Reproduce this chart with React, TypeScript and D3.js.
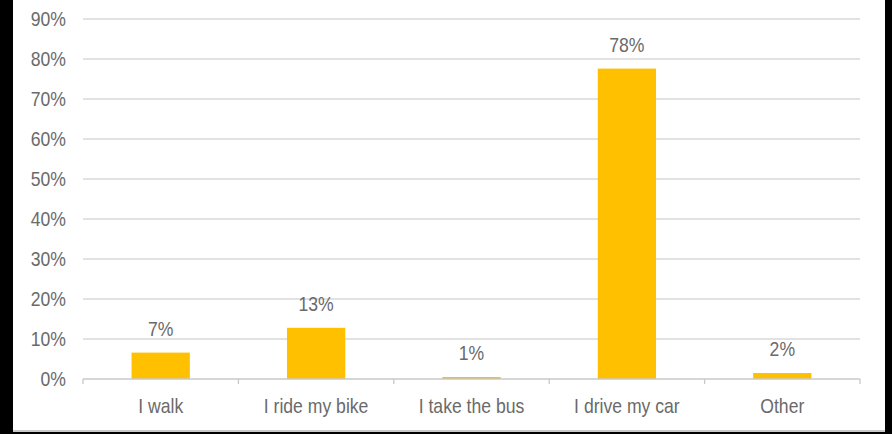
import React from "react";
import * as d3 from "d3";

// Survey: how people get to work
const categories = ["I walk", "I ride my bike", "I take the bus", "I drive my car", "Other"];
const shares = [6.6, 12.8, 0.5, 77.6, 1.5];
const yTicks = [0, 10, 20, 30, 40, 50, 60, 70, 80, 90];

const W = 892;
const H = 434;
const plot = { left: 83, right: 860, top: 19, bottom: 379 };
const FONT = "'Liberation Sans', Arial, sans-serif";
const TEXT = "#6a6a6a";
const SQUEEZE = 0.88;

// Condensed text: horizontally squeezed around its anchor point
function Label({
  x,
  y,
  anchor,
  children,
}: {
  x: number;
  y: number;
  anchor: "start" | "middle" | "end";
  children: React.ReactNode;
}) {
  return (
    <text
      transform={`translate(${x},${y}) scale(${SQUEEZE},1)`}
      textAnchor={anchor}
      fontSize={20}
      fill={TEXT}
    >
      {children}
    </text>
  );
}

export default function App() {
  const x = d3
    .scaleBand<string>()
    .domain(categories)
    .range([plot.left, plot.right])
    .paddingInner(0.625)
    .paddingOuter(0.3125);
  const y = d3.scaleLinear().domain([0, 90]).range([plot.bottom, plot.top]);
  const step = x.step();
  const boundaries = d3.range(categories.length + 1).map((i) => plot.left + i * step);
  const mid = (c: string) => (x(c) as number) + x.bandwidth() / 2;

  return (
    <svg
      width={W}
      height={H}
      style={{ position: "absolute", left: 0, top: 0, display: "block" }}
      fontFamily={FONT}
    >
      <rect x={0} y={0} width={W} height={H} fill="#000" />
      <rect x={13} y={0} width={872} height={431} fill="#fff" />
      <line x1={13} x2={885} y1={431} y2={431} stroke="#c8c8c8" strokeWidth={2} />

      {/* gridlines */}
      {yTicks.filter((t) => t > 0).map((t) => (
        <line
          key={t}
          x1={plot.left}
          x2={plot.right}
          y1={y(t)}
          y2={y(t)}
          stroke="#d9d9d9"
          strokeWidth={1.3}
        />
      ))}

      {/* y tick labels */}
      {yTicks.map((t) => (
        <Label key={t} x={66} y={y(t) + 7} anchor="end">
          {t}%
        </Label>
      ))}

      {/* bars */}
      {categories.map((c, i) => (
        <rect
          key={c}
          x={x(c)}
          y={y(shares[i])}
          width={x.bandwidth()}
          height={y(0) - y(shares[i])}
          fill="#FFC000"
        />
      ))}

      {/* value labels */}
      {categories.map((c, i) => (
        <Label key={c} x={mid(c)} y={y(shares[i]) - 17} anchor="middle">
          {Math.round(shares[i])}%
        </Label>
      ))}

      {/* category axis */}
      <line
        x1={plot.left}
        x2={plot.right}
        y1={y(0)}
        y2={y(0)}
        stroke="#c8c8c8"
        strokeWidth={1.3}
      />
      {boundaries.map((bx, i) => (
        <line key={i} x1={bx} x2={bx} y1={y(0)} y2={y(0) + 5} stroke="#c8c8c8" strokeWidth={1.3} />
      ))}
      {categories.map((c) => (
        <Label key={c} x={mid(c)} y={413} anchor="middle">
          {c}
        </Label>
      ))}
    </svg>
  );
}
